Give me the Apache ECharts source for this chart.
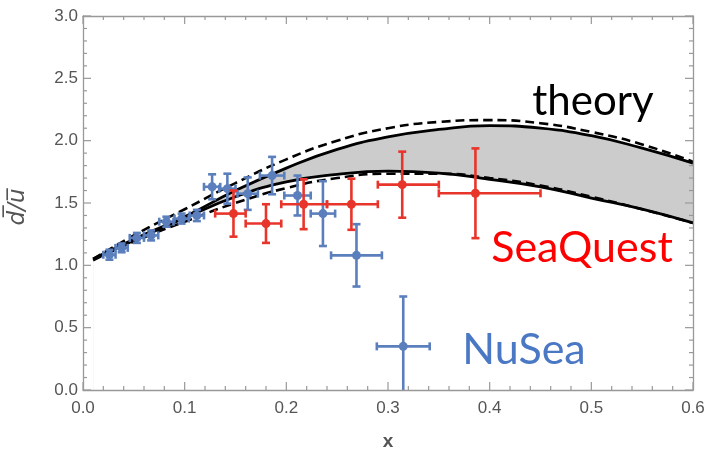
<!DOCTYPE html>
<html>
<head>
<meta charset="utf-8">
<script src="https://cdn.jsdelivr.net/npm/echarts@6/dist/echarts.min.js"></script>
<style>
  html, body { margin: 0; padding: 0; background: #fff; }
  #myChart { width: 708px; height: 456px; }
</style>
</head>
<body>
<div id="myChart"></div>
<script>
// theory curves (x grid + values)
var curveX = [0.01, 0.05, 0.1, 0.15, 0.2, 0.25, 0.3, 0.35, 0.4, 0.45, 0.5, 0.55, 0.6];
var upperDashed = [1.05, 1.24, 1.45, 1.66, 1.85, 2.00, 2.10, 2.15, 2.165, 2.14, 2.07, 1.97, 1.83];
var upperSolid = [1.05, 1.21, 1.39, 1.60, 1.78, 1.93, 2.03, 2.09, 2.12, 2.10, 2.04, 1.94, 1.82];
var lowerSolid = [1.05, 1.20, 1.38, 1.55, 1.67, 1.73, 1.755, 1.74, 1.69, 1.63, 1.54, 1.45, 1.34];
var lowerDashed = [1.04, 1.19, 1.35, 1.50, 1.62, 1.70, 1.735, 1.735, 1.70, 1.64, 1.55, 1.45, 1.34];

// NuSea (E866)
var nuseaX = [0.026, 0.038, 0.053, 0.067, 0.082, 0.097, 0.112, 0.127, 0.142, 0.162, 0.186, 0.211, 0.236, 0.269, 0.315];
var nuseaY = [1.085, 1.14, 1.22, 1.24, 1.35, 1.375, 1.40, 1.63, 1.615, 1.575, 1.72, 1.56, 1.415, 1.08, 0.35];
var nuseaXErr = [0.006, 0.006, 0.007, 0.007, 0.007, 0.007, 0.007, 0.008, 0.008, 0.01, 0.012, 0.013, 0.012, 0.025, 0.026];
var nuseaYErr = [0.04, 0.035, 0.04, 0.04, 0.04, 0.04, 0.045, 0.1, 0.12, 0.13, 0.15, 0.16, 0.26, 0.25, 0.40];

// SeaQuest (E906)
var seaquestX = [0.148, 0.180, 0.217, 0.264, 0.314, 0.386];
var seaquestY = [1.415, 1.335, 1.49, 1.49, 1.647, 1.578];
var seaquestBins = [0.13, 0.16, 0.195, 0.24, 0.29, 0.35, 0.45];
var seaquestYErr = [0.185, 0.155, 0.20, 0.205, 0.265, 0.36];

var xTicks = ['0.0', '0.1', '0.2', '0.3', '0.4', '0.5', '0.6'];
var yTicks = ['0.0', '0.5', '1.0', '1.5', '2.0', '2.5', '3.0'];

var blue = '#5b7fbd';
var red = '#e8352b';
var frameColor = '#999';

function pairs(xs, ys) {
  return xs.map(function (x, i) { return [x, ys[i]]; });
}

var nuseaData = nuseaX.map(function (x, i) {
  return [x, nuseaY[i], x - nuseaXErr[i], x + nuseaXErr[i], nuseaY[i] - nuseaYErr[i], nuseaY[i] + nuseaYErr[i]];
});
var seaquestData = seaquestX.map(function (x, i) {
  return [x, seaquestY[i], seaquestBins[i], seaquestBins[i + 1], seaquestY[i] - seaquestYErr[i], seaquestY[i] + seaquestYErr[i]];
});

function errorBars(color) {
  return function (params, api) {
    var c = api.coord([api.value(0), api.value(1)]);
    var xl = api.coord([api.value(2), api.value(1)]);
    var xh = api.coord([api.value(3), api.value(1)]);
    var yl = api.coord([api.value(0), api.value(4)]);
    var yh = api.coord([api.value(0), api.value(5)]);
    var st = { stroke: color, lineWidth: 2.6 };
    var cap = 4;
    return {
      type: 'group',
      children: [
        { type: 'line', shape: { x1: xl[0], y1: c[1], x2: xh[0], y2: c[1] }, style: st },
        { type: 'line', shape: { x1: c[0], y1: yl[1], x2: c[0], y2: yh[1] }, style: st },
        { type: 'line', shape: { x1: xl[0], y1: c[1] - cap, x2: xl[0], y2: c[1] + cap }, style: st },
        { type: 'line', shape: { x1: xh[0], y1: c[1] - cap, x2: xh[0], y2: c[1] + cap }, style: st },
        { type: 'line', shape: { x1: c[0] - cap, y1: yl[1], x2: c[0] + cap, y2: yl[1] }, style: st },
        { type: 'line', shape: { x1: c[0] - cap, y1: yh[1], x2: c[0] + cap, y2: yh[1] }, style: st },
        { type: 'circle', shape: { cx: c[0], cy: c[1], r: 4.5 }, style: { fill: color } }
      ]
    };
  };
}

// frame ticks on all four sides (major every 0.1 / 0.5, minor every 0.02 / 0.1)
var xTickVals = [];
for (var i = 0; i <= 30; i++) xTickVals.push(i * 0.02);
var yTickVals = [];
for (var j = 0; j <= 30; j++) yTickVals.push(j * 0.1);

function frameTicks(params, api) {
  var kids = [];
  var st = { stroke: frameColor, lineWidth: 1.2 };
  xTickVals.forEach(function (v, i) {
    var len = (i % 5 === 0) ? 8 : 4;
    var b = api.coord([v, 0]);
    var t = api.coord([v, 3]);
    kids.push({ type: 'line', shape: { x1: b[0], y1: b[1], x2: b[0], y2: b[1] - len }, style: st });
    kids.push({ type: 'line', shape: { x1: t[0], y1: t[1], x2: t[0], y2: t[1] + len }, style: st });
  });
  yTickVals.forEach(function (v, i) {
    var len = (i % 5 === 0) ? 8 : 4;
    var l = api.coord([0, v]);
    var r = api.coord([0.6, v]);
    kids.push({ type: 'line', shape: { x1: l[0], y1: l[1], x2: l[0] + len, y2: l[1] }, style: st });
    kids.push({ type: 'line', shape: { x1: r[0], y1: r[1], x2: r[0] - len, y2: r[1] }, style: st });
  });
  return { type: 'group', children: kids };
}

var myChart = echarts.init(document.getElementById('myChart'));

// fresh object for each axis, drawn on its own layer above the band
function frameAxis(extra) {
  var a = {
    type: 'value',
    zlevel: 1,
    axisLine: { show: true, onZero: false, lineStyle: { color: frameColor, width: 1.3 } },
    axisTick: { show: false },
    minorTick: { show: false },
    splitLine: { show: false }
  };
  return Object.assign(a, extra);
}

myChart.setOption({
  animation: false,
  grid: { left: 83, right: 15, top: 16, bottom: 63 },
  xAxis: [
    frameAxis({
      min: 0, max: 0.6, interval: 0.1, position: 'bottom',
      axisLabel: { color: '#555', fontSize: 17, fontFamily: 'Liberation Sans', margin: 10,
        formatter: function (v) { return xTicks[Math.round(v * 10)]; } },
      name: 'x', nameLocation: 'middle', nameGap: 42,
      nameTextStyle: { color: '#555', fontSize: 19, fontWeight: 'bold', fontFamily: 'Liberation Sans' }
    }),
    frameAxis({ min: 0, max: 0.6, interval: 0.1, position: 'top', axisLabel: { show: false } })
  ],
  yAxis: [
    frameAxis({
      min: 0, max: 3, interval: 0.5, position: 'left',
      axisLabel: { color: '#555', fontSize: 17, fontFamily: 'Liberation Sans', margin: 5,
        formatter: function (v) { return yTicks[Math.round(v * 2)]; } }
    }),
    frameAxis({ min: 0, max: 3, interval: 0.5, position: 'right', axisLabel: { show: false } })
  ],
  graphic: [
    { type: 'text', z: 100, x: 18, y: 207, rotation: Math.PI / 2, style: {
        text: 'd\u0305/u\u0305', font: 'italic 23px "DejaVu Sans"', fill: '#555',
        textAlign: 'center', textVerticalAlign: 'middle' } },
    { type: 'text', z: 100, x: 593, y: 101, style: { text: 'theory', font: '42px Lato', fill: '#000',
        textAlign: 'center', textVerticalAlign: 'middle' } },
    { type: 'text', z: 100, x: 582, y: 248, style: { text: 'SeaQuest', font: '43px Lato', fill: '#ff0000',
        textAlign: 'center', textVerticalAlign: 'middle' } },
    { type: 'text', z: 100, x: 524, y: 350, style: { text: 'NuSea', font: '43px Lato', fill: '#4a78c4',
        textAlign: 'center', textVerticalAlign: 'middle' } }
  ],
  series: [
    // band: gray under the upper curve, then white under the lower curve
    { type: 'line', data: pairs(curveX, upperSolid), smooth: true, symbol: 'none', silent: true,
      lineStyle: { opacity: 0 }, areaStyle: { color: '#cccccc', opacity: 1, origin: 'start' }, z: 1 },
    { type: 'line', data: pairs(curveX, lowerSolid), smooth: true, symbol: 'none', silent: true,
      lineStyle: { opacity: 0 }, areaStyle: { color: '#ffffff', opacity: 1, origin: 'start' }, z: 1 },
    { type: 'line', data: pairs(curveX, upperSolid), smooth: true, symbol: 'none',
      lineStyle: { color: '#000', width: 2.8 }, z: 3 },
    { type: 'line', data: pairs(curveX, lowerSolid), smooth: true, symbol: 'none',
      lineStyle: { color: '#000', width: 2.8 }, z: 3 },
    { type: 'line', data: pairs(curveX, upperDashed), smooth: true, symbol: 'none',
      lineStyle: { color: '#000', width: 2.6, type: [9, 5] }, z: 3 },
    { type: 'line', data: pairs(curveX, lowerDashed), smooth: true, symbol: 'none',
      lineStyle: { color: '#000', width: 2.6, type: [9, 5] }, z: 3 },
    { type: 'custom', name: 'NuSea', data: nuseaData, renderItem: errorBars(blue), clip: true, z: 4 },
    { type: 'custom', name: 'SeaQuest', data: seaquestData, renderItem: errorBars(red), clip: true, z: 5 },
    { type: 'custom', name: 'frameTicks', data: [[0, 0]], renderItem: frameTicks, clip: false, silent: true, z: 6 }
  ]
});
</script>
</body>
</html>
